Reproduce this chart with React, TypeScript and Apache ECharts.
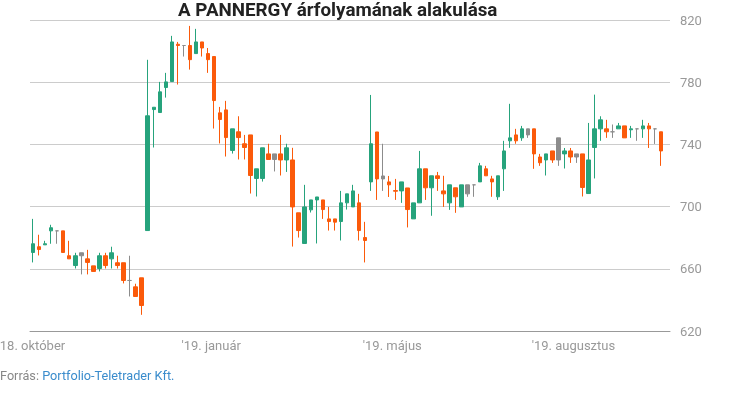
import React, { useEffect, useRef } from "react";
import * as echarts from "echarts";

const titleText = "A PANNERGY árfolyamának alakulása";
const sourceLabel = "Forrás: ";
const sourceName = "Portfolio-Teletrader Kft.";

const tickLabels = ["18. október", "'19. január", "'19. május", "'19. augusztus"];
const labelStep = 30;

const opens = [
  670.5, 674.2, 675.4, 686.4, 684.4, 684.4, 668.4, 662.1, 670.3, 666.4,
  661.9, 660.2, 668.4, 666.4, 663.9, 663.9, 652.5, 648.4, 654.2, 684.6,
  762.4, 760.5, 776.6, 780.4, 804.4, 803.6, 803.6, 798.4, 805.9, 798.4,
  796.5, 760.3, 762.2, 736.1, 748.1, 740.4, 746.1, 718.1, 718.1, 733.9,
  733.9, 733.9, 730, 730, 696, 676.3, 697.9, 704.3, 704.3, 692.1,
  692.1, 690.4, 702.4, 699.8, 702.4, 680.1, 715.9, 748, 719.7, 715.9,
  710.3, 710.1, 712, 692.1, 702.4, 724.3, 712.1, 719.8, 710.1, 702.4,
  712.1, 699.8, 708.2, 714, 715.9, 724.3, 717.8, 706.3, 724.3, 742.3,
  746.1, 744.2, 746.1, 750, 731.9, 730, 735.8, 744.2, 733.9, 735.8,
  733.9, 733.9, 708.4, 738, 750, 750, 748.1, 750, 751.9, 749.4,
  750, 750, 751.9, 750, 748.1,
];

const closes = [
  676.1, 672.4, 676.1, 684.4, 684.4, 670.5, 666.4, 668.4, 668.4, 664.1,
  658.3, 668.4, 662.1, 670.3, 662.1, 652.5, 652.5, 642.2, 636.4, 758.4,
  763.9, 773.8, 780.2, 805.9, 803.6, 803.6, 794.5, 805.9, 802, 794.5,
  768.2, 756, 744.4, 750, 744.4, 738, 720, 724.3, 737.8, 730.3,
  730.3, 730, 737.8, 699.8, 684.6, 699.8, 704.3, 706.2, 698.1, 690.4,
  690, 702.4, 708.2, 710.1, 684.6, 678.2, 740.4, 717.8, 717.8, 714,
  709.9, 715.9, 698.1, 702.4, 724.3, 712.1, 719.8, 718.1, 708.2, 714,
  706.3, 714, 714, 714, 726.2, 719.8, 715.9, 719.8, 735.8, 744.2,
  742.3, 750, 750, 733.9, 728.2, 733.9, 730, 730, 735.8, 731.9,
  731.9, 712.3, 730, 750, 755.8, 748.1, 748.1, 751.9, 744.2, 750,
  750, 751.9, 750, 750, 735.8,
];

const lows = [
  664.1, 668.6, 675.4, 676.1, 676.1, 670.5, 666.4, 660.2, 656.4, 656.4,
  658.3, 658.3, 660.2, 660.2, 660.2, 650.6, 642.2, 642.2, 630.4, 684.6,
  738, 760.5, 770.1, 780.4, 778.5, 796.5, 788.1, 798.4, 796.5, 786,
  750.2, 740.6, 732.2, 734.1, 730.3, 730.3, 708.4, 706.5, 716.1, 730.3,
  722.6, 720, 722.3, 674.3, 680.1, 676.3, 696.2, 676.3, 692.1, 684.6,
  684.6, 678.2, 698.1, 699.8, 678.2, 664.1, 710.1, 704.3, 710.1, 706.2,
  704.3, 702.4, 686.6, 692.1, 702.4, 704.3, 694.1, 710.1, 699.8, 697.9,
  696, 699.8, 706.3, 706.3, 715.9, 719.8, 706.3, 704.3, 710.1, 737.8,
  740.4, 742.3, 744.2, 724.3, 726.2, 720, 728.1, 726.2, 724.5, 728.1,
  728.1, 706.5, 708.4, 718.1, 742.3, 744.2, 744.2, 750, 744.2, 744.2,
  742.3, 744.2, 737.7, 740.3, 726.2,
];

const highs = [
  692.1, 681.9, 678, 688.3, 684.4, 684.4, 678, 670.3, 670.3, 672.2,
  661.9, 670.3, 670.3, 674.2, 668.4, 663.9, 668.4, 650.4, 654.2, 794.4,
  763.9, 780.2, 786, 809.8, 805.9, 803.6, 816.2, 814.3, 805.9, 802,
  796.5, 764.1, 768, 750, 758.1, 746.1, 746.1, 724.3, 737.8, 740.4,
  733.9, 746.1, 740.4, 737.8, 696, 714, 704.3, 706.2, 704.3, 699.8,
  692.1, 710.1, 708.2, 714, 708.2, 690.2, 771.8, 748, 740.4, 719.7,
  717.8, 715.9, 712, 702.4, 735.8, 724.3, 719.8, 722.3, 719.8, 714,
  712.1, 714, 714, 714, 728.1, 726.2, 719.8, 719.8, 742.3, 766.1,
  750, 751.9, 750, 750, 733.9, 733.9, 735.8, 744.2, 737.7, 737.7,
  733.9, 733.9, 753.8, 772, 758.1, 755.8, 752.8, 753.8, 751.9, 751.9,
  750, 755.8, 753.8, 750, 748.1,
];

const UP = "#26a37c";
const DOWN = "#fb5a0a";
const FLAT = "#8c8c8c";

export default function App() {
  const ref = useRef<HTMLDivElement>(null);

  useEffect(() => {
    if (!ref.current) return;
    const chart = echarts.init(ref.current, undefined, { renderer: "svg" });

    const categories = opens.map((_, i) => String(i + 1)).concat([""]);
    const data = opens.map((o, i) => {
      const c = closes[i];
      const prev = i === 0 ? o : closes[i - 1];
      const col = c > prev ? UP : c < prev ? DOWN : FLAT;
      return {
        value: [o, c, lows[i], highs[i]],
        itemStyle: {
          color: col,
          color0: col,
          borderColor: col,
          borderColor0: col,
          borderColorDoji: col,
        },
      };
    });

    const labelFont = { color: "#999", fontSize: 13, fontFamily: "Roboto" };

    chart.setOption({
      animation: false,
      title: {
        text: titleText,
        left: 178,
        top: 0,
        padding: 0,
        textStyle: {
          fontFamily: "Roboto",
          fontSize: 18.8,
          fontWeight: "bold",
          color: "#222",
        },
      },
      grid: {
        left: 30,
        right: 60,
        top: 20,
        bottom: 79,
        containLabel: false,
        outerBoundsMode: "none",
      },
      xAxis: {
        type: "category",
        data: categories,
        boundaryGap: true,
        axisLine: { lineStyle: { color: "#999", width: 1 } },
        axisTick: { show: false },
        splitLine: { show: false },
        axisLabel: {
          interval: labelStep - 1,
          formatter: (_v: string, i: number) => {
            const t = tickLabels[i / labelStep];
            if (t === undefined) return "";
            return i === 0 ? `{first|${t}}` : t;
          },
          ...labelFont,
          margin: 8,
          padding: [0, 6, 0, 0],
          rich: {
            first: { ...labelFont, padding: [0, 0, 0, 5] },
          },
        },
      },
      yAxis: {
        type: "value",
        position: "right",
        min: 620,
        max: 820,
        interval: 40,
        axisLine: { show: false },
        axisTick: { show: false },
        splitLine: { lineStyle: { color: "#ccc", width: 1 } },
        axisLabel: { ...labelFont, margin: 10 },
      },
      series: [
        {
          type: "candlestick",
          data,
          barWidth: 4,
          itemStyle: { borderWidth: 1 },
        },
      ],
      graphic: [
        {
          type: "text",
          left: 0,
          top: 369,
          style: {
            text: `{a|${sourceLabel}}{b|${sourceName}}`,
            rich: {
              a: { fill: "#888", color: "#888", fontSize: 12.7, fontFamily: "Roboto" },
              b: { fill: "#3a8ccc", color: "#3a8ccc", fontSize: 12.7, fontFamily: "Roboto" },
            },
          },
        },
      ],
    });

    return () => chart.dispose();
  }, []);

  return (
    <div
      ref={ref}
      style={{ position: "fixed", left: 0, top: 0, width: 730, height: 410 }}
    />
  );
}
